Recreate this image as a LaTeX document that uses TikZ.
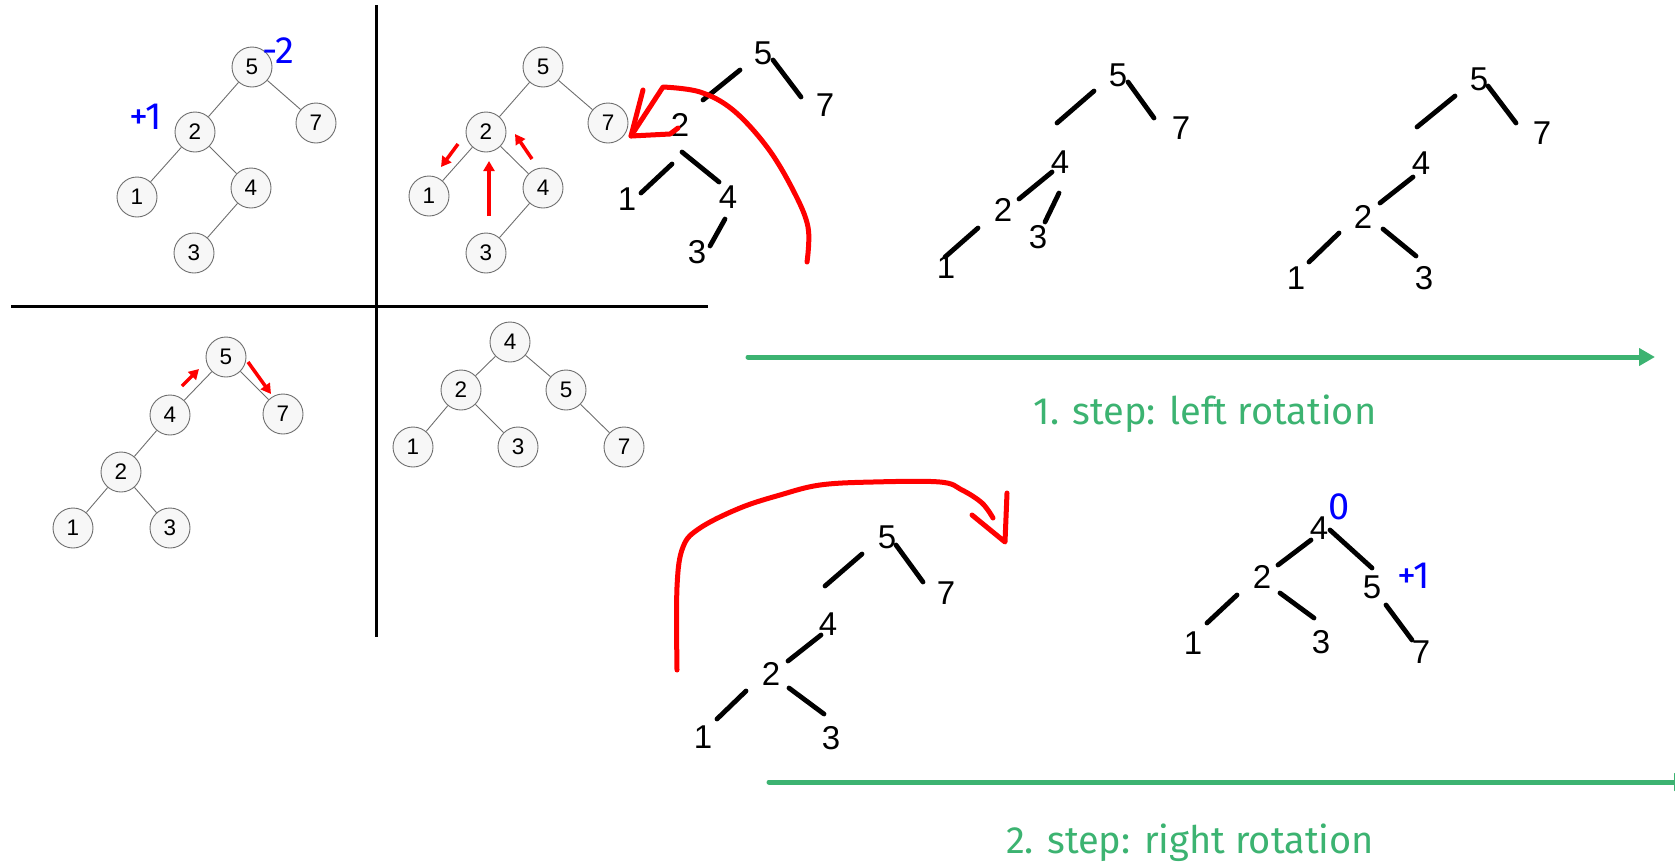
\documentclass[tikz,border=0pt]{standalone}
\usepackage{fontspec}
\setmainfont{Liberation Sans}
\newfontfamily\handfont{Fira Sans}
\usetikzlibrary{arrows.meta}
\definecolor{stepgreen}{RGB}{60,179,113}
\definecolor{nodegray}{RGB}{247,247,247}
\definecolor{edgegray}{RGB}{110,110,110}
\begin{document}
\begin{tikzpicture}[x=1pt,y=-1pt,
  cnode/.style={circle, draw=edgegray, fill=nodegray, line width=0.9pt, minimum size=40pt, inner sep=0pt, font=\fontsize{22.5}{22.5}\selectfont},
  cedge/.style={draw=edgegray, line width=0.9pt},
  hdigit/.style={inner sep=0pt, font=\fontsize{33}{33}\selectfont},
  hline/.style={line width=4.8pt, line cap=round},
  divider/.style={line width=3pt},
  redpen/.style={draw=red, line width=5pt, line cap=round, line join=round},
  redarrow/.style={draw=red, line width=3.5pt, -{Triangle[length=10pt,width=11pt]}},
  bal/.style={text=blue, inner sep=0pt, font=\handfont\fontsize{38}{38}\selectfont},
  greenarrow/.style={draw=stepgreen, line width=5pt, line cap=round, -{Triangle[length=16pt,width=17pt]}},
  steplabel/.style={text=stepgreen, inner sep=0pt, font=\handfont\fontsize{38}{38}\selectfont},
]
\useasboundingbox (0,0) rectangle (1675,865);

% dividers
\coordinate (hl) at (11,306); \coordinate (hr) at (708,306);
\coordinate (vt) at (376,5); \coordinate (vb) at (376,637);
\draw[divider] (hl) -- (hr);
\draw[divider] (vt) -- (vb);

% tree 1 (top left)
\node[cnode] (a5) at (252,67) {5};
\node[cnode] (a2) at (195,132) {2};
\node[cnode] (a7) at (316,123) {7};
\node[cnode] (a1) at (137,197) {1};
\node[cnode] (a4) at (251,188) {4};
\node[cnode] (a3) at (194,253) {3};
\draw[cedge] (a5) -- (a2); \draw[cedge] (a5) -- (a7);
\draw[cedge] (a2) -- (a1); \draw[cedge] (a2) -- (a4);
\draw[cedge] (a4) -- (a3);
\node[bal] (abal5) at (278,51) {-2};
\node[bal] (abal2) at (146,117) {+1};

% tree 2 (top middle)
\node[cnode] (b5) at (543,67) {5};
\node[cnode] (b2) at (486,132) {2};
\node[cnode] (b7) at (608,123) {7};
\node[cnode] (b1) at (429,196) {1};
\node[cnode] (b4) at (543,188) {4};
\node[cnode] (b3) at (486,253) {3};
\draw[cedge] (b5) -- (b2); \draw[cedge] (b5) -- (b7);
\draw[cedge] (b2) -- (b1); \draw[cedge] (b2) -- (b4);
\draw[cedge] (b4) -- (b3);
\draw[redarrow] (458,144) -- (441,167);
\draw[redarrow] (489,216) -- (489,161);
\draw[redarrow] (532,159) -- (515,134);

% tree 3 (bottom left)
\node[cnode] (c5) at (226,357) {5};
\node[cnode] (c4) at (170,415) {4};
\node[cnode] (c7) at (283,414) {7};
\node[cnode] (c2) at (121,472) {2};
\node[cnode] (c1) at (73,528) {1};
\node[cnode] (c3) at (170,528) {3};
\draw[cedge] (c5) -- (c4); \draw[cedge] (c5) -- (c7);
\draw[cedge] (c4) -- (c2);
\draw[cedge] (c2) -- (c1); \draw[cedge] (c2) -- (c3);
\draw[redarrow] (182,386) -- (199,369);
\draw[redarrow] (248,362) -- (271,394);

% tree 4 (bottom middle)
\node[cnode] (d4) at (510,342) {4};
\node[cnode] (d2) at (461,390) {2};
\node[cnode] (d5) at (566,390) {5};
\node[cnode] (d1) at (413,447) {1};
\node[cnode] (d3) at (518,447) {3};
\node[cnode] (d7) at (624,447) {7};
\draw[cedge] (d4) -- (d2); \draw[cedge] (d4) -- (d5);
\draw[cedge] (d2) -- (d1); \draw[cedge] (d2) -- (d3);
\draw[cedge] (d5) -- (d7);

% hand tree 1
\node[hdigit] (e5) at (763,53) {5};
\node[hdigit] (e7) at (825,105) {7};
\node[hdigit] (e2) at (680,125) {2};
\node[hdigit] (e1) at (627,199) {1};
\node[hdigit] (e4) at (728,197) {4};
\node[hdigit] (e3) at (697,252) {3};
\draw[hline] (740,70) -- (703,100);
\draw[hline] (773,60) -- (801,97);
\draw[hline] (672,164) -- (641,193);
\draw[hline] (682,152) -- (719,182);
\draw[hline] (725,219) -- (710,246);
\draw[redpen] plot[smooth, tension=0.6] coordinates {(807,262) (808,227) (793,190) (767,147) (733,110) (700,92) (663,87)} -- (631,136);
\draw[redpen] (643,90) -- (631,136) -- (670,134) -- (678,128);

% hand tree 2
\node[hdigit] (f5) at (1118,75) {5};
\node[hdigit] (f7) at (1181,128) {7};
\node[hdigit] (f4) at (1060,162) {4};
\node[hdigit] (f2) at (1003,210) {2};
\node[hdigit] (f3) at (1038,237) {3};
\node[hdigit] (f1) at (946,267) {1};
\draw[hline] (1094,91) -- (1057,123);
\draw[hline] (1128,82) -- (1154,118);
\draw[hline] (1052,172) -- (1019,199);
\draw[hline] (1059,193) -- (1045,222);
\draw[hline] (978,228) -- (945,257);

% hand tree 3
\node[hdigit] (g5) at (1479,79) {5};
\node[hdigit] (g7) at (1542,133) {7};
\node[hdigit] (g4) at (1421,163) {4};
\node[hdigit] (g2) at (1363,217) {2};
\node[hdigit] (g1) at (1296,278) {1};
\node[hdigit] (g3) at (1424,278) {3};
\draw[hline] (1455,96) -- (1417,127);
\draw[hline] (1488,86) -- (1516,123);
\draw[hline] (1413,177) -- (1380,203);
\draw[hline] (1339,233) -- (1309,262);
\draw[hline] (1383,229) -- (1416,256);

% step 1 arrow
\coordinate (s1a) at (748,357); \coordinate (s1b) at (1655,357);
\draw[greenarrow] (s1a) -- (s1b);
\node[steplabel] (s1l) at (1205,414) {1. step: left rotation};

% hand tree 4
\node[hdigit] (h5) at (887,537) {5};
\node[hdigit] (h7) at (946,593) {7};
\node[hdigit] (h4) at (828,624) {4};
\node[hdigit] (h2) at (771,674) {2};
\node[hdigit] (h1) at (703,737) {1};
\node[hdigit] (h3) at (831,738) {3};
\draw[hline] (862,554) -- (825,586);
\draw[hline] (896,545) -- (923,582);
\draw[hline] (821,635) -- (788,661);
\draw[hline] (746,691) -- (717,719);
\draw[hline] (789,688) -- (824,714);
\draw[redpen] plot[smooth, tension=0.6] coordinates {(677,670) (677,587) (683,547) (700,528) (740,508) (780,495) (820,485) (873,482) (940,482) (962,490) (982,503) (993,518)};
\draw[redpen] (972,515) -- (1005,542) -- (1007,493);

% hand tree 5
\node[hdigit] (k4) at (1319,528) {4};
\node[hdigit] (k2) at (1262,577) {2};
\node[hdigit] (k5) at (1372,587) {5};
\node[hdigit] (k1) at (1193,643) {1};
\node[hdigit] (k3) at (1321,642) {3};
\node[hdigit] (k7) at (1421,652) {7};
\draw[hline] (1311,540) -- (1278,565);
\draw[hline] (1330,530) -- (1372,568);
\draw[hline] (1237,595) -- (1207,623);
\draw[hline] (1280,593) -- (1314,618);
\draw[hline] (1386,605) -- (1412,640);
\node[bal] (kbal4) at (1339,507) {0};
\node[bal] (kbal5) at (1414,576) {+1};

% step 2 arrow
\coordinate (s2a) at (769,782); \coordinate (s2b) at (1690,782);
\draw[greenarrow] (s2a) -- (s2b);
\node[steplabel] (s2l) at (1190,843) {2. step: right rotation};
\end{tikzpicture}
\end{document}
